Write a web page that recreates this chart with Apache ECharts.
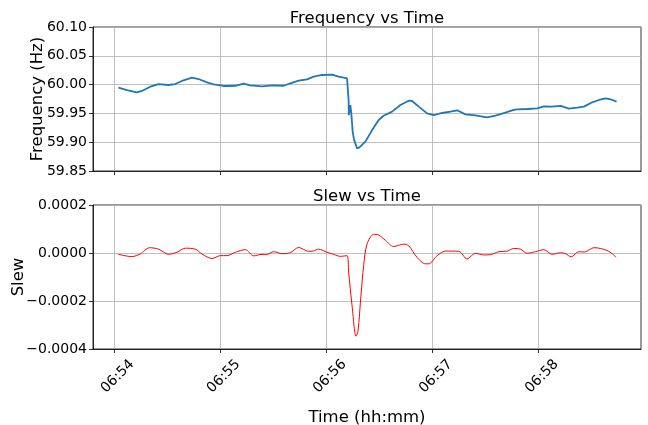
<!DOCTYPE html>
<html>
<head>
<meta charset="utf-8">
<script src="https://cdn.jsdelivr.net/npm/echarts@6/dist/echarts.min.js"></script>
<style>
  html, body { margin: 0; padding: 0; background: #fff; }
  #chart { width: 648px; height: 425px; }
</style>
</head>
<body>
<div id="chart"></div>
<script>
// time = seconds after 06:54:00
var freqTimes = [2.4, 7.2, 12.8, 15.7, 20.4, 25.1, 30.7, 34.5, 38.3, 44, 47.7, 52.5, 56.2, 61.9, 64.7, 68.5, 73.2, 77, 83.6, 89.3, 95.8, 99.6,
  104.3, 109.1, 112.8, 117.5, 123.2, 127, 131.7, 132.3, 132.6, 132.7, 133.6, 134.2, 134.9, 135.7, 136.4, 137.4, 138.7, 139.4, 142.1, 145.9,
  149.6, 152.4, 157.2, 161.9, 166.6, 168.5, 172.3, 177, 180.7, 185.5, 190.2, 194, 198.7, 204.3, 210.9, 215.7, 221.3, 226, 228, 233.6,
  239.3, 243, 247.7, 252.5, 257.2, 261.9, 265.7, 270.4, 274.2, 277.9, 280.8, 284.2];
var freqValues = [59.9946, 59.9906, 59.9866, 59.9889, 59.9964, 60.001, 59.9993, 60.001, 60.0063, 60.012, 60.0097, 60.004, 60.0005, 59.9976, 59.9976, 59.998, 60.0016, 59.9988, 59.997, 59.9988, 59.998, 60.0023,
  60.0068, 60.0092, 60.0137, 60.0167, 60.0172, 60.0137, 60.011, 60.011, 59.973, 59.947, 59.9646, 59.947, 59.918, 59.904, 59.907, 59.889, 59.891, 59.8877, 59.901, 59.921,
  59.9385, 59.946, 59.953, 59.9646, 59.972, 59.9715, 59.9617, 59.95, 59.9472, 59.9507, 59.953, 59.9554, 59.9484, 59.9467, 59.9432, 59.946, 59.9512, 59.956, 59.957, 59.9576,
  59.9588, 59.9623, 59.9617, 59.963, 59.9582, 59.96, 59.9617, 59.9693, 59.9733, 59.9762, 59.9745, 59.9703];

var slewTimes = [2.4, 10, 14.7, 20, 25.1, 30.7, 35.5, 40.2, 45.8, 49.6, 55.3, 60, 63.8, 68.5, 74.2, 78.9, 83.6, 86, 90.2, 94.9, 99.6, 104.3, 110, 112.5, 115.6, 120.4, 124.1, 127.9, 131.7,
  132.6, 134.5, 136.8, 137.9, 139.6, 141.1, 143, 146.8, 149.6, 153.4, 158.1, 163.8, 166.6, 171.3, 176, 177.9, 182.7, 187.4, 194.9, 199.6, 204.3, 209, 212.8, 217.5, 222.3,
  226, 229.8, 233.6, 238.3, 243, 247.7, 252.5, 255.3, 258.5, 262.8, 266, 271.3, 275.1, 279.8, 284];
var slewValues = [-0.0000055, -0.000015, -0.000004, 0.000022, 0.000016, -0.0000055, 0.000003, 0.00002, 0.000016, -0.000004, -0.000023, -0.000011, -0.000011, 0.000003, 0.000014, -0.000012, -0.0000055, -0.000007, 0.0000055, -0.000003, 0.0000014, 0.000023, 0.000007, 0.000008, 0.000016, 0.000003, -0.0000055, -0.000014, -0.000011,
  -0.00008, -0.000216, -0.000347, -0.000326, -0.000175, -0.000052, 0.000037, 0.000078, 0.000075, 0.000053, 0.000027, 0.000037, 0.00003, -0.000018, -0.000045, -0.000045, -0.000011, 0.000008, 0.000007, -0.000025, -0.0000014, -0.000008, -0.000007, 0.0000055, 0.000008,
  0.000019, 0.000016, -0.0000014, 0.0000055, 0.000014, -0.0000055, 0.0000014, -0.000003, -0.000016, 0.0000055, 0.000004, 0.000022, 0.000019, 0.000007, -0.000018];

var tickTimes = [0, 60, 120, 180, 240];

function pairs(xs, ys) {
  return xs.map(function (x, i) { return [x, ys[i]]; });
}

function timeLabel(v) {
  var m = 54 + Math.round(v / 60);
  return '06:' + (m < 10 ? '0' + m : m);
}

var font = 'DejaVu Sans';
var gridLine = { show: true, lineStyle: { color: '#b0b0b0', width: 0.8 } };
var axisLine = { show: true, onZero: false, lineStyle: { color: '#000', width: 0.8 } };
var axisTick = { show: true, length: 4, lineStyle: { color: '#000', width: 0.8 } };

function xAxis(idx, showLabels) {
  return {
    type: 'value',
    gridIndex: idx,
    min: -12,
    max: 298,
    axisLine: axisLine,
    axisTick: { show: true, length: 4, lineStyle: axisTick.lineStyle, customValues: tickTimes },
    splitLine: gridLine,
    axisLabel: {
      show: showLabels,
      customValues: tickTimes,
      rotate: 45,
      align: 'center',
      verticalAlign: 'middle',
      padding: [0, 0, 0, 10],
      fontFamily: font,
      fontSize: 14,
      color: '#000',
      margin: 31,
      formatter: timeLabel
    },
    name: showLabels ? 'Time (hh:mm)' : '',
    nameLocation: 'middle',
    nameGap: 60,
    nameMoveOverlap: false,
    nameTextStyle: { fontFamily: font, fontSize: 16.5, color: '#000' }
  };
}

var chart = echarts.init(document.getElementById('chart'), null, { renderer: 'canvas' });

var option = {
  animation: false,
  backgroundColor: '#fff',
  title: [
    { text: 'Frequency vs Time', left: 362, top: 5, textAlign: 'center',
      textStyle: { fontFamily: font, fontSize: 16.5, fontWeight: 'normal', color: '#000' } },
    { text: 'Slew vs Time', left: 362, top: 183, textAlign: 'center',
      textStyle: { fontFamily: font, fontSize: 16.5, fontWeight: 'normal', color: '#000' } }
  ],
  grid: [
    { left: 93, top: 27, width: 548, height: 144, show: true, borderColor: '#000', borderWidth: 0.8, outerBoundsMode: 'none' },
    { left: 93, top: 205, width: 548, height: 144, show: true, borderColor: '#000', borderWidth: 0.8, outerBoundsMode: 'none' }
  ],
  xAxis: [xAxis(0, false), xAxis(1, true)],
  yAxis: [
    {
      type: 'value', gridIndex: 0, min: 59.85, max: 60.10, interval: 0.05,
      axisLine: axisLine, axisTick: axisTick, splitLine: gridLine,
      axisLabel: { fontFamily: font, fontSize: 14, color: '#000', margin: 6,
        formatter: function (v) { return v.toFixed(2); } },
      name: 'Frequency (Hz)', nameLocation: 'middle', nameGap: 47, nameMoveOverlap: false,
      nameTextStyle: { fontFamily: font, fontSize: 16.5, color: '#000' }
    },
    {
      type: 'value', gridIndex: 1, min: -0.0004, max: 0.0002, interval: 0.0002,
      axisLine: axisLine, axisTick: axisTick, splitLine: gridLine,
      axisLabel: { fontFamily: font, fontSize: 14, color: '#000', margin: 6,
        formatter: function (v) { return v.toFixed(4).replace('-', '\u2212'); } },
      name: 'Slew', nameLocation: 'middle', nameGap: 66, nameMoveOverlap: false,
      nameTextStyle: { fontFamily: font, fontSize: 16.5, color: '#000' }
    }
  ],
  series: [
    {
      type: 'line', xAxisIndex: 0, yAxisIndex: 0,
      data: pairs(freqTimes, freqValues),
      showSymbol: false,
      lineStyle: { color: '#1f77b4', width: 1.8 }
    },
    {
      type: 'line', xAxisIndex: 1, yAxisIndex: 1,
      data: pairs(slewTimes, slewValues),
      showSymbol: false,
      smooth: 0.3,
      lineStyle: { color: '#ff0000', width: 1 }
    }
  ]
};

chart.setOption(option);
</script>
</body>
</html>
